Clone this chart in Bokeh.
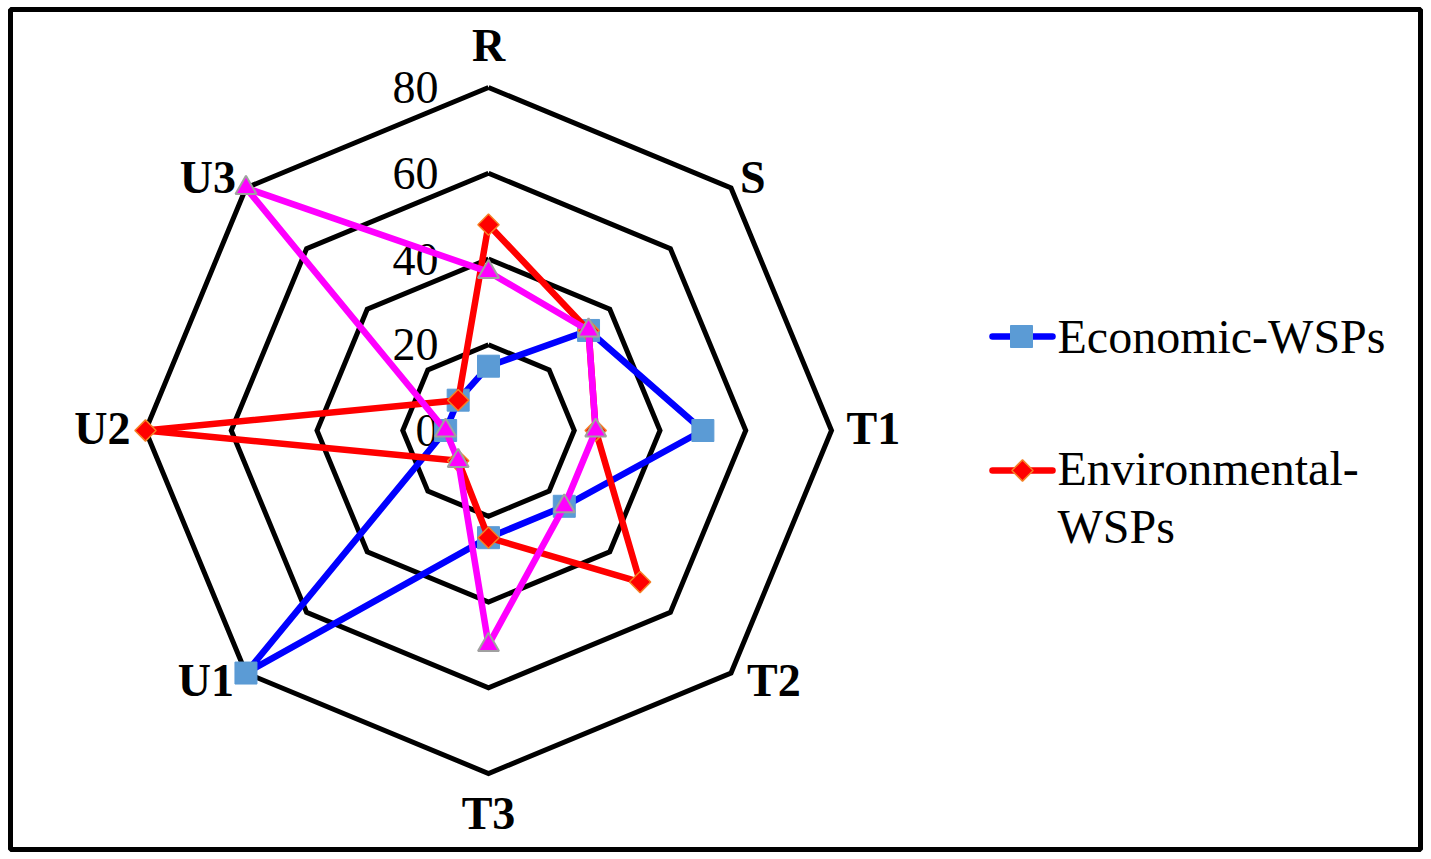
import numpy as np
from bokeh.plotting import figure
from bokeh.models import Range1d
from bokeh.core.properties import value
from bokeh.embed import file_html
from bokeh.resources import INLINE

# ---------------- data ----------------
categories = ["R", "S", "T1", "T2", "T3", "U1", "U2", "U3"]
economic = [15, 33, 50, 25, 25, 80, 10, 10]
environmental = [48, 33, 25, 50, 25, 10, 80, 10]
third_series = [37, 33, 25, 25, 50, 10, 10, 80]
ring_values = [20, 40, 60, 80]
tick_values = [0, 20, 40, 60, 80]
tick_labels = ["0", "20", "40", "60", "80"]
legend_labels = ["Economic-WSPs", "Environmental-\nWSPs"]

# ---------------- layout ----------------
MB_L, MB_T, MB_R, MB_B = 10, 9, 5, 5
FW, FH = 1410, 840
W, H = FW + MB_L + MB_R, FH + MB_T + MB_B
CX_PAGE, CY_PAGE = 488, 430          # page pixel of the chart centre
RMAX_PX, RMAX = 343.0, 80.0
S = RMAX_PX / RMAX                    # pixels per unit
fx, fy = CX_PAGE - MB_L, CY_PAGE - MB_T

def px_x(px):
    return (px - CX_PAGE) / S

def px_y(py):
    return (CY_PAGE - py) / S

p = figure(width=W, height=H,
           x_range=Range1d(-fx / S, (FW - fx) / S),
           y_range=Range1d(-(FH - fy) / S, fy / S),
           output_backend="svg", toolbar_location=None,
           min_border_left=MB_L, min_border_top=MB_T,
           min_border_right=MB_R, min_border_bottom=MB_B,
           x_axis_type=None, y_axis_type=None)
p.grid.visible = False
p.outline_line_color = "black"
p.outline_line_width = 5
p.background_fill_color = "white"
p.border_fill_color = "white"

n = len(categories)
theta = np.arange(n) * 2 * np.pi / n
sin_t, cos_t = np.sin(theta), np.cos(theta)

SERIF = value("Liberation Serif")

# ring grid (octagons)
for r in ring_values:
    xs = list(r * sin_t) + [r * sin_t[0]]
    ys = list(r * cos_t) + [r * cos_t[0]]
    p.line(xs, ys, line_color="black", line_width=5, line_join="miter")

# tick labels
p.text(x=[0] * len(tick_values), y=tick_values, text=tick_labels,
       text_font=SERIF, text_font_size="46px", text_color="black",
       text_align="right", text_baseline="middle", x_offset=-50, y_offset=0)

# category labels
aligns = ["center", "left", "left", "left", "center", "right", "right", "right"]
xoffs = [0, 9, 15, 16, 0, -12, -15, -10]
yoffs = [-42, -10, -2, 7, 40, 7, -2, -10]
for i, c in enumerate(categories):
    p.text(x=[RMAX * sin_t[i]], y=[RMAX * cos_t[i]], text=[c],
           text_font=SERIF, text_font_size="46px", text_font_style="bold",
           text_color="black", text_align=aligns[i], text_baseline="middle",
           x_offset=xoffs[i], y_offset=yoffs[i])

def draw_series(vals, line_color, marker, size, fill, mline, angle=0.0, mlw=1.0):
    v = np.array(vals, dtype=float)
    xs = v * sin_t
    ys = v * cos_t
    p.line(list(xs) + [xs[0]], list(ys) + [ys[0]], line_color=line_color,
           line_width=6.5, line_join="round")
    p.scatter(xs, ys, marker=marker, size=size, fill_color=fill,
              line_color=mline, line_width=mlw, angle=angle)

draw_series(economic, "#0000FF", "square", 22, "#5B9BD5", "#5B9BD5")
draw_series(environmental, "#FF0000", "square", 15, "#FF0000", "#F58025",
            angle=np.pi / 4, mlw=1.5)
draw_series(third_series, "#FF00FF", "triangle", 21, "#FF00FF", "#A0A0A0", mlw=2)

# legend (manual)
ly1 = px_y(336)
p.line([px_x(992), px_x(1052)], [ly1, ly1], line_color="#0000FF",
       line_width=6.5, line_cap="round")
p.scatter([px_x(1021)], [ly1], marker="square", size=22,
          fill_color="#5B9BD5", line_color="#5B9BD5")
p.text(x=[px_x(1057)], y=[ly1], text=[legend_labels[0]], text_font=SERIF,
       text_font_size="48px", text_color="black", text_align="left",
       text_baseline="middle")

ly2 = px_y(470)
p.line([px_x(992), px_x(1052)], [ly2, ly2], line_color="#FF0000",
       line_width=6.5, line_cap="round")
p.scatter([px_x(1022)], [ly2], marker="square", size=15, angle=np.pi / 4,
          fill_color="#FF0000", line_color="#F58025", line_width=1.5)
p.text(x=[px_x(1057)], y=[px_y(441)], text=[legend_labels[1]], text_font=SERIF,
       text_font_size="48px", text_color="black", text_align="left",
       text_baseline="top", text_line_height=1.1)

open("out.html", "w").write(file_html(p, INLINE))
